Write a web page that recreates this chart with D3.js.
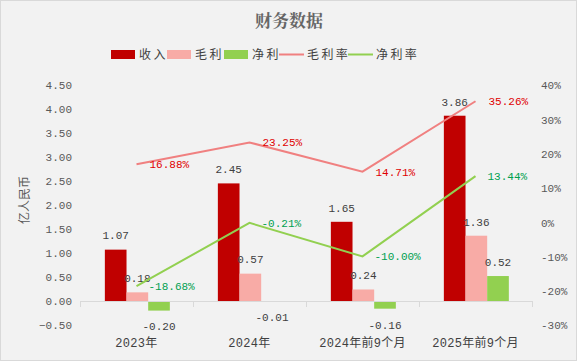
<!DOCTYPE html>
<html><head><meta charset="utf-8">
<script src="https://cdn.jsdelivr.net/npm/d3@7/dist/d3.min.js"></script>
<style>body{margin:0;background:#f2f2f2;}svg{display:block;}</style>
</head><body>
<script>
const categories = ["2023年", "2024年", "2024年前9个月", "2025年前9个月"];
const revenue = [1.07, 2.45, 1.65, 3.86];
const grossProfit = [0.18, 0.57, 0.24, 1.36];
const netProfit = [-0.20, -0.01, -0.16, 0.52];
const grossMargin = [16.88, 23.25, 14.71, 35.26];
const netMargin = [-18.68, -0.21, -10.00, 13.44];
const leftTicks = [-0.5, 0, 0.5, 1, 1.5, 2, 2.5, 3, 3.5, 4, 4.5];
const rightTicks = [-30, -20, -10, 0, 10, 20, 30, 40];

const W = 577, H = 361;
const mono = "'Liberation Mono','DejaVu Sans Mono','Noto Sans CJK SC',monospace";
const cjk = "'Noto Sans CJK SC',sans-serif";
const svg = d3.select("body").append("svg").attr("width", W).attr("height", H);
svg.append("rect").attr("x", 0.5).attr("y", 0.5).attr("width", W - 1).attr("height", H - 1)
  .attr("fill", "#f2f2f2").attr("stroke", "#d9d9d9");

const x = d3.scaleBand().domain(categories).range([80, 532]).paddingInner(0);
const bw = x.bandwidth();
const series = ["rev", "gp", "np"];
const xs = d3.scaleBand().domain(series).range([bw * 0.22, bw * 0.795]).padding(0);
const yL = d3.scaleLinear().domain([-0.5, 4.5]).range([325, 85]);
const yR = d3.scaleLinear().domain([-30, 40]).range([325, 85]);

// title
svg.append("text").attr("x", 289).attr("y", 27).attr("text-anchor", "middle")
  .attr("font-family", "'Noto Serif CJK SC','Noto Sans CJK SC',serif").attr("font-weight", "bold")
  .attr("font-size", 17).attr("fill", "#666").text("财务数据");

// legend
const lg = svg.append("g").attr("font-family", cjk).attr("font-size", 12).attr("fill", "#404040");
const legendItems = [
  {t: "收入", c: "#c00000", type: "rect", x: 111},
  {t: "毛利", c: "#f8aba6", type: "rect", x: 167},
  {t: "净利", c: "#92d050", type: "rect", x: 224},
  {t: "毛利率", c: "#f08080", type: "line", x: 279},
  {t: "净利率", c: "#92d050", type: "line", x: 348}
];
legendItems.forEach(d => {
  if (d.type === "rect") lg.append("rect").attr("x", d.x).attr("y", 50).attr("width", 24).attr("height", 9).attr("fill", d.c);
  else lg.append("line").attr("x1", d.x).attr("x2", d.x + 25).attr("y1", 54.5).attr("y2", 54.5).attr("stroke", d.c).attr("stroke-width", 2);
  lg.append("text").attr("x", d.x + 28).attr("y", 59).text(d.t.split("").join("\u2009"));
});

// left axis
const la = svg.append("g").attr("transform", "translate(72,0)")
  .call(d3.axisLeft(yL).tickValues(leftTicks).tickSize(0).tickPadding(0).tickFormat(d3.format(".2f")));
la.select(".domain").remove();
la.selectAll("text").attr("font-family", mono).attr("font-size", 11).attr("fill", "#595959").attr("dy", "0.35em");

// right axis
const ra = svg.append("g").attr("transform", "translate(541,0)")
  .call(d3.axisRight(yR).tickValues(rightTicks).tickSize(0).tickPadding(0).tickFormat(d => d + "%"));
ra.select(".domain").remove();
ra.selectAll("text").attr("font-family", mono).attr("font-size", 11).attr("fill", "#595959").attr("dy", "0.35em");

// y axis title
svg.append("text").attr("transform", "translate(29,200) rotate(-90)").attr("text-anchor", "middle")
  .attr("font-family", cjk).attr("font-size", 12).attr("fill", "#595959").text("亿人民币");

// bars
const barData = [
  {k: "rev", v: revenue, c: "#c00000"},
  {k: "gp", v: grossProfit, c: "#f8aba6"},
  {k: "np", v: netProfit, c: "#92d050"}
];
const bars = svg.append("g");
barData.forEach(s => {
  s.v.forEach((v, i) => {
    const bx = x(categories[i]) + xs(s.k);
    bars.append("rect").attr("x", bx).attr("width", xs.bandwidth())
      .attr("y", Math.min(yL(v), yL(0))).attr("height", Math.max(Math.abs(yL(v) - yL(0)), 1)).attr("fill", s.c);
  });
});

// x axis
const xa = svg.append("g");
xa.append("line").attr("x1", 80).attr("x2", 532).attr("y1", yL(0) + 0.5).attr("y2", yL(0) + 0.5).attr("stroke", "#d9d9d9");
categories.concat([null]).forEach((c, i) => {
  const tx = c ? x(c) : 532;
  xa.append("line").attr("x1", tx + 0.5).attr("x2", tx + 0.5).attr("y1", yL(0)).attr("y2", yL(0) + 6).attr("stroke", "#d9d9d9");
});
categories.forEach(c => {
  xa.append("text").attr("x", x(c) + bw / 2).attr("y", 347).attr("text-anchor", "middle")
    .attr("font-family", mono).attr("font-size", 12).attr("letter-spacing", "0.3px").attr("fill", "#404040").text(c);
});

// bar labels
const bl = svg.append("g").attr("font-family", mono).attr("font-size", 11).attr("fill", "#404040").attr("text-anchor", "middle");
barData.forEach(s => {
  s.v.forEach((v, i) => {
    const cx = x(categories[i]) + xs(s.k) + xs.bandwidth() / 2;
    const y = v >= 0 ? yL(v) - 14 : yL(v) + 16;
    bl.append("text").attr("x", cx).attr("y", y).attr("dy", "0.35em").text(v.toFixed(2));
  });
});

// lines
const lineGen = d3.line().x((d, i) => x(categories[i]) + bw / 2).y(d => yR(d));
svg.append("path").datum(grossMargin).attr("d", lineGen).attr("fill", "none").attr("stroke", "#f08080").attr("stroke-width", 2);
svg.append("path").datum(netMargin).attr("d", lineGen).attr("fill", "none").attr("stroke", "#92d050").attr("stroke-width", 2);

const ll = svg.append("g").attr("font-family", mono).attr("font-size", 11);
grossMargin.forEach((v, i) => {
  ll.append("text").attr("x", x(categories[i]) + bw / 2 + 13).attr("y", yR(v)).attr("dy", "0.35em")
    .attr("fill", "#e00000").text(v.toFixed(2) + "%");
});
netMargin.forEach((v, i) => {
  ll.append("text").attr("x", x(categories[i]) + bw / 2 + 12).attr("y", yR(v)).attr("dy", "0.35em")
    .attr("fill", "#00a050").text(v.toFixed(2) + "%");
});
</script>
</body></html>
